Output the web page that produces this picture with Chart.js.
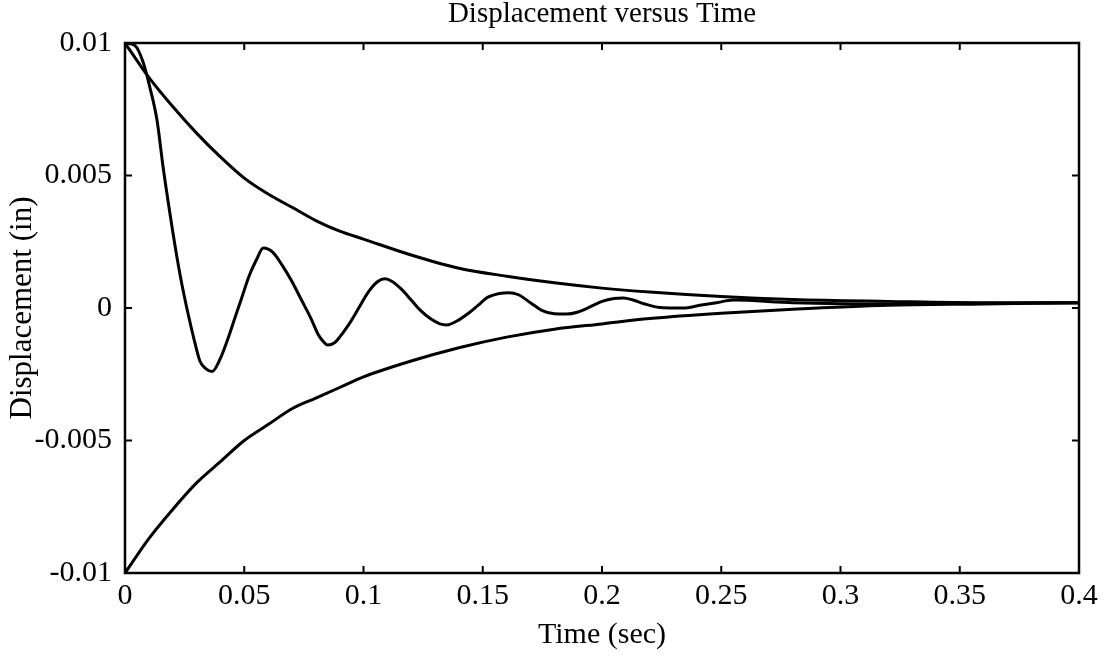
<!DOCTYPE html>
<html>
<head>
<meta charset="utf-8">
<script src="https://cdn.jsdelivr.net/npm/chart.js@4"></script>
<style>
  html, body { margin: 0; padding: 0; background: #fff; }
  #wrap { width: 1106px; height: 663px; }
</style>
</head>
<body>
<div id="wrap"><canvas id="c" width="1106" height="663"></canvas></div>
<script>
// ---- Data ----
const upperT = [0, 0.01, 0.02, 0.03, 0.04, 0.05, 0.06, 0.07, 0.08, 0.09, 0.10, 0.12, 0.14, 0.16, 0.18, 0.20, 0.22, 0.25, 0.28, 0.32, 0.36, 0.40];
const upperV = [0.0100, 0.0087, 0.0076, 0.0066, 0.0057, 0.0049, 0.0043, 0.0038, 0.0033, 0.0029, 0.0026, 0.0020, 0.0015, 0.0012, 0.00095, 0.00075, 0.0006, 0.00043, 0.00032, 0.00025, 0.0002, 0.0002];

const lowerT = [0, 0.01, 0.02, 0.03, 0.04, 0.05, 0.06, 0.07, 0.08, 0.09, 0.10, 0.12, 0.14, 0.16, 0.18, 0.20, 0.22, 0.25, 0.28, 0.32, 0.36, 0.40];
const lowerV = [-0.0100, -0.0087, -0.0076, -0.0066, -0.0058, -0.0050, -0.0044, -0.0038, -0.0034, -0.0030, -0.0026, -0.0020, -0.0015, -0.0011, -0.0008, -0.0006, -0.0004, -0.0002, -0.00005, 0.0001, 0.00015, 0.0002];

const oscT = [0, 0.0042, 0.0075, 0.0105, 0.0134, 0.016, 0.020, 0.0232, 0.0264, 0.029, 0.0314, 0.034, 0.0365, 0.040, 0.043, 0.046, 0.049, 0.052, 0.055, 0.058, 0.062, 0.066, 0.070, 0.074, 0.078, 0.081, 0.083, 0.085, 0.088, 0.090, 0.094, 0.098, 0.102, 0.106, 0.109, 0.112, 0.116, 0.120, 0.124, 0.128, 0.132, 0.135, 0.139, 0.144, 0.148, 0.152, 0.157, 0.161, 0.165, 0.170, 0.175, 0.180, 0.185, 0.190, 0.195, 0.200, 0.205, 0.209, 0.213, 0.218, 0.224, 0.234, 0.241, 0.248, 0.255, 0.28, 0.32, 0.36, 0.40];
const oscV = [0.0100, 0.0099, 0.0093, 0.0083, 0.0071, 0.0053, 0.0029, 0.0012, -0.0002, -0.0012, -0.0020, -0.0023, -0.0024, -0.0019, -0.0012, -0.0004, 0.0004, 0.0012, 0.0018, 0.00226, 0.0021, 0.0016, 0.0010, 0.0003, -0.0004, -0.0010, -0.00125, -0.0014, -0.0013, -0.0011, -0.0006, 0.0000, 0.0006, 0.0010, 0.0011, 0.0010, 0.0007, 0.0003, -0.0001, -0.0004, -0.0006, -0.00064, -0.0005, -0.0002, 0.0001, 0.0004, 0.00055, 0.00058, 0.0005, 0.0002, -0.0001, -0.00022, -0.00023, -0.00015, 0.00004, 0.00025, 0.00036, 0.00038, 0.0003, 0.00015, 0.00002, 0.0, 0.0001, 0.0002, 0.0003, 0.0002, 0.00015, 0.00018, 0.0002];

const xTickValues = [0, 0.05, 0.1, 0.15, 0.2, 0.25, 0.3, 0.35, 0.4];
const xTickLabels = ['0', '0.05', '0.1', '0.15', '0.2', '0.25', '0.3', '0.35', '0.4'];
const yTickValues = [-0.01, -0.005, 0, 0.005, 0.01];
const yTickLabels = ['-0.01', '-0.005', '0', '0.005', '0.01'];

const titleText = 'Displacement versus Time';
const xTitle = 'Time (sec)';
const yTitle = 'Displacement (in)';

// ---- Build datasets ----
const toPts = (ts, vs) => ts.map((t, i) => ({ x: t, y: vs[i] }));

const SERIF = "'Liberation Serif', 'Times New Roman', serif";

const boxTicks = {
  id: 'boxTicks',
  afterDraw(chart) {
    const { ctx, chartArea: a, scales } = chart;
    ctx.save();
    ctx.strokeStyle = '#000';
    ctx.lineWidth = 2.5;
    ctx.strokeRect(a.left, a.top, a.right - a.left, a.bottom - a.top);
    ctx.lineWidth = 2;
    const L = 7;
    ctx.beginPath();
    xTickValues.forEach(v => {
      const px = scales.x.getPixelForValue(v);
      ctx.moveTo(px, a.bottom); ctx.lineTo(px, a.bottom - L);
      ctx.moveTo(px, a.top); ctx.lineTo(px, a.top + L);
    });
    yTickValues.forEach(v => {
      const py = scales.y.getPixelForValue(v);
      ctx.moveTo(a.left, py); ctx.lineTo(a.left + L, py);
      ctx.moveTo(a.right, py); ctx.lineTo(a.right - L, py);
    });
    ctx.stroke();
    ctx.restore();
  }
};

const lineStyle = {
  borderColor: '#000',
  borderWidth: 3,
  pointRadius: 0,
  fill: false,
  cubicInterpolationMode: 'monotone'
};

new Chart(document.getElementById('c'), {
  type: 'line',
  data: {
    datasets: [
      Object.assign({ label: 'upper', data: toPts(upperT, upperV) }, lineStyle),
      Object.assign({ label: 'lower', data: toPts(lowerT, lowerV) }, lineStyle),
      Object.assign({ label: 'response', data: toPts(oscT, oscV) }, lineStyle)
    ]
  },
  options: {
    responsive: false,
    animation: false,
    events: [],
    layout: { padding: { top: 0, right: 27, bottom: 0, left: 0 } },
    plugins: {
      legend: { display: false },
      tooltip: { enabled: false },
      title: {
        display: true,
        text: titleText,
        fullSize: false,
        color: '#000',
        font: { family: SERIF, size: 29, weight: 'normal', lineHeight: 1.0 },
        padding: { top: 0, bottom: 14 }
      }
    },
    scales: {
      x: {
        type: 'linear',
        min: 0, max: 0.4,
        afterBuildTicks: s => { s.ticks = xTickValues.map(v => ({ value: v })); },
        afterFit: s => { s.height = 90; },
        ticks: {
          color: '#000',
          font: { family: SERIF, size: 30 },
          padding: 5,
          maxRotation: 0,
          autoSkip: false,
          callback: (v, i) => xTickLabels[i]
        },
        grid: { display: false, drawTicks: false },
        border: { display: false },
        title: {
          display: true,
          text: xTitle,
          color: '#000',
          font: { family: SERIF, size: 30, lineHeight: 1.0 },
          padding: { top: 0, bottom: 13 }
        }
      },
      y: {
        type: 'linear',
        min: -0.01, max: 0.01,
        afterBuildTicks: s => { s.ticks = yTickValues.map(v => ({ value: v })); },
        afterFit: s => { s.width = 125; },
        ticks: {
          color: '#000',
          font: { family: SERIF, size: 30 },
          padding: 13,
          autoSkip: false,
          callback: (v, i) => yTickLabels[i]
        },
        grid: { display: false, drawTicks: false },
        border: { display: false },
        title: {
          display: true,
          text: yTitle,
          color: '#000',
          font: { family: SERIF, size: 31, lineHeight: 1.0 },
          padding: { top: 7, bottom: 0 }
        }
      }
    }
  },
  plugins: [boxTicks]
});
</script>
</body>
</html>
